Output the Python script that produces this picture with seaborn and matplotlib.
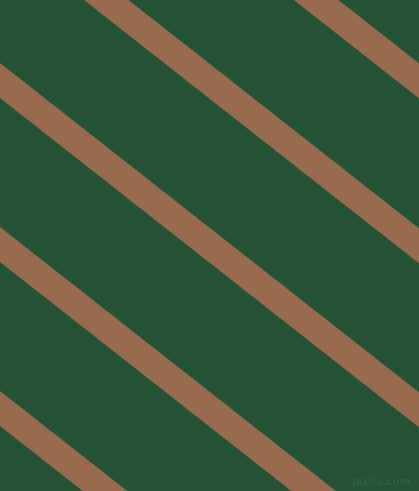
import matplotlib
matplotlib.use("Agg")
import matplotlib.pyplot as plt
import seaborn as sns
import pandas as pd

# Stripe data: centre-line height at the left edge (x=0), common slope,
# and vertical thickness of each stripe
stripe_ids = ["s1", "s2", "s3", "s4", "s5"]
intercepts = [-248.5, -83.5, 80.5, 244.5, 408.5]
slope = 0.786
thickness = 35.0
x_ends = [-20, 440]

bg_color = "#245335"
stripe_color = "#986b4f"

rows = []
for sid, b in zip(stripe_ids, intercepts):
    for x in x_ends:
        yc = b + slope * x
        rows.append({"stripe": sid, "x": x, "y": yc - thickness / 2})
        rows.append({"stripe": sid, "x": x, "y": yc + thickness / 2})
df = pd.DataFrame(rows)

sns.set_theme(style="white")
fig = plt.figure(figsize=(4.19, 4.91), dpi=100)
fig.patch.set_facecolor(bg_color)
ax = fig.add_axes([0, 0, 1, 1])
ax.set_facecolor(bg_color)

sns.lineplot(data=df, x="x", y="y", hue="stripe",
             palette=[stripe_color] * len(stripe_ids),
             estimator="mean", errorbar=lambda v: (v.min(), v.max()),
             err_kws={"alpha": 1.0, "linewidth": 0},
             linewidth=0, legend=False, ax=ax)

ax.set_xlim(0, 419)
ax.set_ylim(491, 0)
ax.axis("off")

ax.text(411, 482, "pixlis.com", ha="right", va="center", fontsize=7.5,
        color="#2c6040", fontweight="bold", family="DejaVu Sans")

fig.savefig("out.png", dpi=100, facecolor=bg_color)
